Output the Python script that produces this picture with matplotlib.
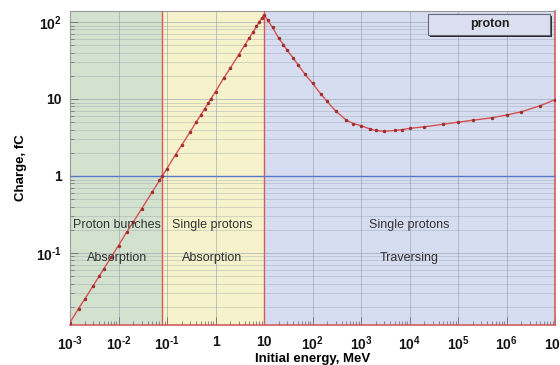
import matplotlib
matplotlib.use("Agg")
import matplotlib.pyplot as plt
from matplotlib.patches import Rectangle
from matplotlib.ticker import LogLocator, FixedLocator, NullFormatter

plt.rcParams['font.family'] = ['Liberation Sans', 'DejaVu Sans']
plt.rcParams['mathtext.fontset'] = 'custom'
plt.rcParams['mathtext.rm'] = 'Liberation Sans:bold'
plt.rcParams['mathtext.bf'] = 'Liberation Sans:bold'
plt.rcParams['mathtext.it'] = 'Liberation Sans:bold'
plt.rcParams['mathtext.default'] = 'bf'

# Data (energy in MeV, charge in fC)
energy = [0.001, 0.0015, 0.002, 0.003, 0.004, 0.005, 0.007, 0.01, 0.015, 0.02, 0.03, 0.05, 0.07, 0.08,
          0.1, 0.15, 0.2, 0.3, 0.4, 0.5, 0.6, 0.7, 0.8, 1, 1.5, 2, 3, 4, 5, 6, 7, 8, 9, 10,
          12, 15, 20, 25, 30, 40, 50, 70, 100, 150, 200, 300, 500, 700,
          1000, 1500, 2000, 3000, 5000, 7000, 1e4, 2e4, 5e4, 1e5, 2e5, 5e5,
          1e6, 2e6, 5e6, 1e7]
charge = [0.0125, 0.019, 0.025, 0.0375, 0.05, 0.0625, 0.0875, 0.125, 0.19, 0.25, 0.375, 0.625, 0.875, 1.0,
          1.25, 1.9, 2.5, 3.75, 5.0, 6.25, 7.5, 8.75, 10, 12.5, 19, 25, 37.5, 50, 62.5, 75, 87.5, 100, 112, 125,
          105, 85, 62, 51, 43, 34, 28, 21, 16, 11.5, 9.3, 7.0, 5.3, 4.8,
          4.5, 4.1, 3.9, 3.8, 3.9, 4.0, 4.15, 4.35, 4.7, 5.0, 5.3, 5.7,
          6.2, 6.8, 8.2, 9.8]

region_edges = [0.001, 0.079, 10, 1e7]
region_colors = ['#d3e2cf', '#f6f2cb', '#d6ddf0']
region_line1 = ['Proton bunches', 'Single protons', 'Single protons']
region_line2 = ['Absorption', 'Absorption', 'Traversing']
region_text_x = [0.0093, 0.85, 1e4]

x_ticks = [1e-3, 1e-2, 1e-1, 1, 10, 1e2, 1e3, 1e4, 1e5, 1e6, 1e7]
x_tick_labels = ['$10^{\u2010 3}$', '$10^{\u2010 2}$', '$10^{\u2010 1}$', '1', '10',
                 '$10^{2}$', '$10^{3}$', '$10^{4}$', '$10^{5}$', '$10^{6}$', '$10^{7}$']
y_ticks = [0.1, 1, 10, 100]
y_tick_labels = ['$10^{\u2010 1}$', '1', '10', '$10^{2}$']

fig = plt.figure(figsize=(5.6, 3.65), dpi=100)
ax = fig.add_axes([70/560, 40/365, 485/560, 314/365])
ax.set_xscale('log')
ax.set_yscale('log')
ax.set_xlim(1e-3, 1e7)
ax.set_ylim(0.0116, 139)

for i, c in enumerate(region_colors):
    ax.axvspan(region_edges[i], region_edges[i+1], color=c, zorder=0, lw=0)

ax.yaxis.set_major_locator(FixedLocator(y_ticks))
ax.yaxis.set_minor_locator(LogLocator(base=10, subs=range(2, 10), numticks=20))
ax.yaxis.set_minor_formatter(NullFormatter())
ax.xaxis.set_major_locator(FixedLocator(x_ticks))
ax.xaxis.set_minor_locator(LogLocator(base=10, subs=range(2, 10), numticks=20))
ax.xaxis.set_minor_formatter(NullFormatter())
ax.grid(True, which='major', axis='both', color='#8e9aa6', lw=0.7, alpha=0.55, zorder=1)
ax.grid(True, which='minor', axis='y', color='#8e9aa6', lw=0.6, alpha=0.4, zorder=1)

ax.set_xticks(x_ticks)
ax.set_xticklabels(x_tick_labels)
ax.set_yticks(y_ticks)
ax.set_yticklabels(y_tick_labels)
ax.tick_params(axis='both', which='both', direction='in', colors='#777777',
               labelcolor='#111111', labelsize=10)
ax.tick_params(axis='both', which='major', length=6, width=0.7)
ax.tick_params(axis='both', which='minor', length=3, width=0.6)
ax.tick_params(axis='x', which='both', pad=7)
ax.tick_params(axis='y', which='both', pad=6)
for lab in ax.get_xticklabels() + ax.get_yticklabels():
    lab.set_fontweight('bold')

for e in region_edges[1:3]:
    ax.axvline(e, color='#d85a5a', lw=1.0, zorder=3)
ax.axhline(1, color='#5a78c8', lw=1.0, zorder=3)

ax.plot(energy, charge, color='#d85050', lw=1.0, marker='o', ms=1.5,
        mfc='#a03030', mec='#a03030', zorder=4)

for x, t1, t2 in zip(region_text_x, region_line1, region_line2):
    ax.text(x, 0.231, t1, ha='center', va='center', fontsize=9, color='#333333', zorder=5)
    ax.text(x, 0.086, t2, ha='center', va='center', fontsize=9, color='#333333', zorder=5)

for s in ['left', 'top']:
    ax.spines[s].set_color('#999999')
    ax.spines[s].set_linewidth(0.8)
for s in ['right', 'bottom']:
    ax.spines[s].set_color('#d06060')
    ax.spines[s].set_linewidth(1.2)

ax.set_xlabel('Initial energy, MeV', fontsize=9.5, fontweight='bold', labelpad=0)
ax.set_ylabel('Charge, fC', fontsize=9.5, fontweight='bold', labelpad=6)

W, H = 560, 365
def fr(x0, y0, w, h, **kw):
    return Rectangle((x0/W, 1 - (y0 + h)/H), w/W, h/H, transform=fig.transFigure, **kw)
fig.patches.append(fr(430, 16, 122, 21, facecolor='#2a2a36', edgecolor='none', zorder=10))
fig.patches.append(fr(428, 14, 122, 21, facecolor='#dcdff0', edgecolor='#666677', lw=0.8, zorder=11))
fig.text(490/W, 1 - 24.5/H, 'proton', ha='center', va='center', fontsize=9,
         fontweight='bold', color='#222222', zorder=12)

fig.savefig('out.png', dpi=100)
